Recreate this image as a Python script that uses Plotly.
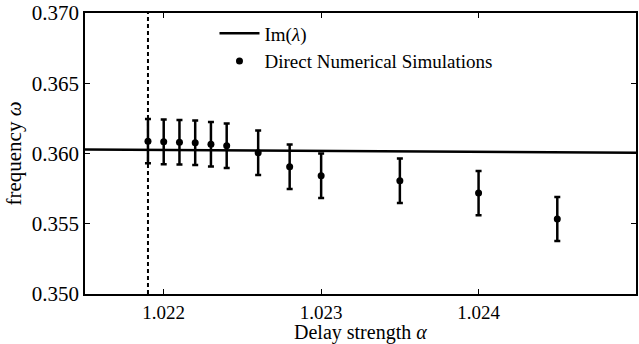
import plotly.graph_objects as go

# ---- data ----
alpha_dns = [1.0219, 1.0220, 1.0221, 1.0222, 1.0223, 1.0224, 1.0226, 1.0228, 1.0230, 1.0235, 1.0240, 1.0245]
omega_dns = [0.36088, 0.36083, 0.36080, 0.36076, 0.36066, 0.36055, 0.36005, 0.35906, 0.35842, 0.35806, 0.35718, 0.35534]
omega_err = [0.00157, 0.00159, 0.00158, 0.00158, 0.00158, 0.00158, 0.00158, 0.00158, 0.00158, 0.00158, 0.00158, 0.00157]

alpha_theory = [1.0215, 1.0220, 1.0225, 1.0230, 1.0235, 1.0240, 1.0245, 1.0250]
omega_theory = [0.36028, 0.36025, 0.36022, 0.36019, 0.36016, 0.36013, 0.36009, 0.36006]

alpha_critical = 1.0219
y_range = [0.350, 0.370]
x_range = [1.0215, 1.0250]
x_ticks = [1.022, 1.023, 1.024]
x_ticklabels = ["1.022", "1.023", "1.024"]
y_ticks = [0.350, 0.355, 0.360, 0.365, 0.370]
y_ticklabels = ["0.350", "0.355", "0.360", "0.365", "0.370"]
x_title = "Delay strength <i>α</i>"
y_title = "frequency <i>ω</i>"

FONT = "Liberation Serif"

fig = go.Figure()

fig.add_trace(go.Scatter(
    x=[alpha_critical, alpha_critical], y=y_range, mode="lines",
    line=dict(color="black", width=2, dash="4px,3px"), showlegend=False, hoverinfo="skip"))

fig.add_trace(go.Scatter(
    x=alpha_theory, y=omega_theory, mode="lines", name="Im(<i>λ</i>)",
    line=dict(color="black", width=2.5)))

fig.add_trace(go.Scatter(
    x=alpha_dns, y=omega_dns, mode="markers", name="Direct Numerical Simulations",
    marker=dict(color="black", size=7),
    error_y=dict(type="data", array=omega_err, visible=True, color="black", thickness=2.5, width=3)))

axis_common = dict(
    showline=True, linecolor="black", linewidth=1.5, mirror="ticks",
    ticks="inside", ticklen=5, tickwidth=1, tickcolor="black",
    showgrid=False, zeroline=False,
)

fig.update_layout(
    width=639, height=344,
    margin=dict(l=85, r=1, t=12, b=50),
    paper_bgcolor="white", plot_bgcolor="white",
    font=dict(family=FONT, color="black"),
    xaxis=dict(range=x_range, tickvals=x_ticks, ticktext=x_ticklabels,
               tickfont=dict(family=FONT, size=19, color="black"),
               **axis_common),
    yaxis=dict(range=y_range, tickvals=y_ticks, ticktext=y_ticklabels,
               tickfont=dict(family=FONT, size=21, color="black"),
               title=dict(text=y_title, font=dict(family=FONT, size=21), standoff=4),
               **axis_common),
    legend=dict(x=0.235, y=0.995, xanchor="left", yanchor="top", itemwidth=40,
                bgcolor="rgba(0,0,0,0)", font=dict(family=FONT, size=19, color="black")),
    annotations=[dict(text=x_title, xref="paper", yref="paper", x=0.5, y=0,
                      xanchor="center", yanchor="middle", yshift=-38, showarrow=False,
                      font=dict(family=FONT, size=20, color="black"))],
)

fig.write_html("out.html")
